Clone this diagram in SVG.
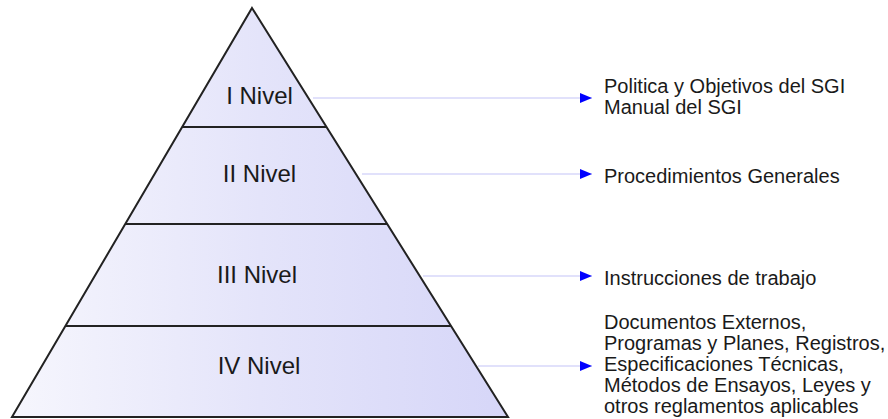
<svg xmlns="http://www.w3.org/2000/svg" width="888" height="419" viewBox="0 0 888 419">
<style>
.lvl{font-family:"Liberation Sans",Arial,sans-serif;font-size:24px;fill:#1a1a1a;text-anchor:middle}
.desc{font-family:"Liberation Sans",Arial,sans-serif;font-size:20px;fill:#1a1a1a}
.edge{stroke:#222;stroke-width:2}
.conn{stroke:#c4c4f8;stroke-width:1.2;fill:none}
</style>
<defs>
<linearGradient id="g" x1="0" y1="0" x2="1" y2="0">
<stop offset="0" stop-color="#f6f6fd"/>
<stop offset="0.5" stop-color="#e4e4fa"/>
<stop offset="1" stop-color="#d6d6f8"/>
</linearGradient>
<marker id="ah" viewBox="0 0 12 10" refX="12" refY="5" markerWidth="12" markerHeight="10" markerUnits="userSpaceOnUse" orient="auto">
<path d="M0,0 L12,5 L0,10 Z" fill="#0000ff"/>
</marker>
</defs>
<rect width="888" height="419" fill="#ffffff"/>
<g id="connectors">
<line class="conn" x1="313" y1="98" x2="592" y2="98" marker-end="url(#ah)"/>
<line class="conn" x1="362" y1="174" x2="592" y2="174" marker-end="url(#ah)"/>
<line class="conn" x1="423" y1="276" x2="592" y2="276" marker-end="url(#ah)"/>
<line class="conn" x1="478" y1="366" x2="592" y2="366" marker-end="url(#ah)"/>
</g>
<g id="pyramid">
<polygon points="252,8 508,417 12,417" style="fill:url(#g)" class="edge" stroke-linejoin="miter"/>
<line class="edge" x1="182" y1="127" x2="326" y2="127"/>
<line class="edge" x1="125" y1="224" x2="387" y2="224"/>
<line class="edge" x1="65" y1="326" x2="451" y2="326"/>
</g>
<g id="level1"><text class="lvl" x="259.5" y="104">I Nivel</text></g>
<g id="level2"><text class="lvl" x="259.5" y="182">II Nivel</text></g>
<g id="level3"><text class="lvl" x="257" y="283">III Nivel</text></g>
<g id="level4"><text class="lvl" x="259" y="374">IV Nivel</text></g>
<g id="desc1"><text class="desc" x="604" y="93">Politica y Objetivos del SGI</text><text class="desc" x="604" y="114">Manual del SGI</text></g>
<g id="desc2"><text class="desc" x="604" y="183">Procedimientos Generales</text></g>
<g id="desc3"><text class="desc" x="604" y="285">Instrucciones de trabajo</text></g>
<g id="desc4">
<text class="desc" x="604" y="329">Documentos Externos,</text>
<text class="desc" x="604" y="350">Programas y Planes, Registros,</text>
<text class="desc" x="604" y="371">Especificaciones Técnicas,</text>
<text class="desc" x="604" y="392">Métodos de Ensayos, Leyes y</text>
<text class="desc" x="604" y="413">otros reglamentos aplicables</text>
</g>
</svg>
